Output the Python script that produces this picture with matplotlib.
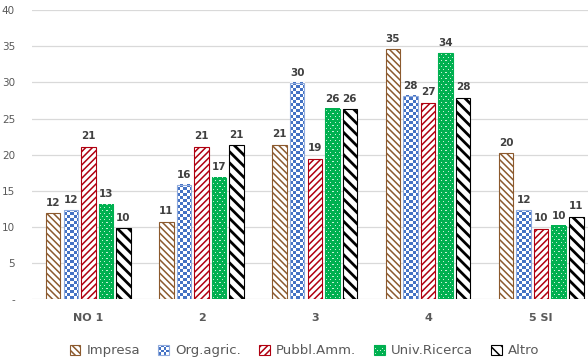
import matplotlib
matplotlib.use("Agg")
import matplotlib.pyplot as plt
from matplotlib.patches import Rectangle
from matplotlib.legend_handler import HandlerBase
from matplotlib.colors import to_rgb
import numpy as np

# ── Data ─────────────────────────────────────────────────────────────────────
categories = ["NO 1", "2", "3", "4", "5 SI"]
series_names = ["Impresa", "Org.agric.", "Pubbl.Amm.", "Univ.Ricerca", "Altro"]
impresa = [11.9, 10.7, 21.4, 34.6, 20.2]
org_agric = [12.3, 15.8, 29.9, 28.1, 12.3]
pubbl_amm = [21.1, 21.1, 19.4, 27.2, 9.75]
univ_ricerca = [13.1, 16.8, 26.3, 34.0, 10.1]
altro = [9.8, 21.3, 26.3, 27.9, 11.4]
yticks = [0, 5, 10, 15, 20, 25, 30, 35, 40]
ytick_labels = ["-", "5", "10", "15", "20", "25", "30", "35", "40"]

# ── Style ────────────────────────────────────────────────────────────────────
BROWN = "#8C5A2E"
BLUE = "#4472C4"
BLUE_EDGE = "#8FAADC"
RED = "#B00010"
GREEN = "#00B050"
BLACK = "#000000"
GRID = "#D9D9D9"
TXT = "#595959"
LBL = "#404040"

W_PX, H_PX, DPI = 588, 364, 100
AX_L, AX_B = 31.7 / W_PX, (H_PX - 299.4) / H_PX
AX_W, AX_H = 566.1 / W_PX, 289.4 / H_PX
XMIN, XMAX, YMAX = -0.5, 4.5, 40
PX_X = AX_W * W_PX / (XMAX - XMIN)
PX_Y = AX_H * H_PX / YMAX

BAR_W = 0.128
STEP = 0.155


def checker(h, w):
    r, c = np.mgrid[0:h, 0:w]
    m = ((r // 3) + (c // 3)) % 2 == 0
    img = np.empty((h, w, 3))
    img[:] = to_rgb("#FFFFFF")
    img[m] = to_rgb(BLUE)
    return img


def dots(h, w):
    r, c = np.mgrid[0:h, 0:w]
    m = (r % 3 == 1) & ((c + 2 * ((r // 3) % 2)) % 4 == 1)
    img = np.empty((h, w, 3))
    img[:] = to_rgb(GREEN)
    img[m] = to_rgb("#C8F0D8")
    return img


# values, edge, hatch, pattern, hatch lw
styles = [
    (impresa, BROWN, "\\\\\\\\\\", None, 1.1),
    (org_agric, BLUE_EDGE, None, checker, None),
    (pubbl_amm, RED, "/////", None, 1.1),
    (univ_ricerca, GREEN, None, dots, None),
    (altro, BLACK, "\\\\\\", None, 2.0),
]

fig = plt.figure(figsize=(W_PX / DPI, H_PX / DPI), dpi=DPI, facecolor="white")
ax = fig.add_axes([AX_L, AX_B, AX_W, AX_H])

x = np.arange(len(categories))
proxies = []
for k, (vals, edge, hatch, pattern, hlw) in enumerate(styles):
    xs = x + (k - 2) * STEP
    if pattern is None:
        with plt.rc_context({"hatch.linewidth": hlw}):
            bars = ax.bar(xs, vals, BAR_W, facecolor="white", edgecolor=edge,
                          hatch=hatch, linewidth=0.8, zorder=3)
            p = Rectangle((0, 0), 1, 1, facecolor="white", edgecolor=edge,
                          hatch=hatch, linewidth=0.8)
        for b in list(bars) + [p]:
            if hasattr(b, "set_hatch_linewidth"):
                b.set_hatch_linewidth(hlw)
    else:
        ax.bar(xs, vals, BAR_W, facecolor="none", edgecolor=edge,
               linewidth=0.8, zorder=3)
        for xi, v in zip(xs, vals):
            h = max(1, int(round(v * PX_Y)))
            w = max(1, int(round(BAR_W * PX_X)))
            ax.imshow(pattern(h, w), extent=(xi - BAR_W / 2, xi + BAR_W / 2, 0, v),
                      origin="lower", interpolation="nearest", aspect="auto", zorder=2)
        p = Rectangle((0, 0), 1, 1, facecolor="none", edgecolor=edge, linewidth=0.8)
        p.pattern = pattern
    proxies.append(p)
    for xi, v in zip(xs, vals):
        ax.annotate(f"{v:.0f}", (xi, v), xytext=(0, 4), textcoords="offset points",
                    ha="center", va="bottom", fontsize=7.5, fontweight="bold",
                    color=LBL)


class PatternHandler(HandlerBase):
    def create_artists(self, legend, orig_handle, xdescent, ydescent,
                       width, height, fontsize, trans):
        n = 12
        img = orig_handle.pattern(n, n)
        arts = []
        cw, ch = width / n, height / n
        for i in range(n):
            for j in range(n):
                arts.append(Rectangle((-xdescent + j * cw, -ydescent + i * ch),
                                      cw, ch, facecolor=img[i, j],
                                      edgecolor="none", transform=trans))
        arts.append(Rectangle((-xdescent, -ydescent), width, height, fill=False,
                              edgecolor=orig_handle.get_edgecolor(), linewidth=0.8,
                              transform=trans))
        return arts


handler_map = {p: PatternHandler() for p in proxies if hasattr(p, "pattern")}

ax.set_xlim(XMIN, XMAX)
ax.set_ylim(0, YMAX)
ax.set_yticks(yticks)
ax.set_yticklabels(ytick_labels)
ax.set_xticks(x)
ax.set_xticklabels(categories, fontweight="bold")
ax.tick_params(axis="y", length=0, pad=12, labelsize=7.5, labelcolor=TXT)
ax.tick_params(axis="x", length=0, pad=10, labelsize=8, labelcolor=TXT)
for lab in ax.get_yticklabels():
    lab.set_horizontalalignment("right")
ax.grid(axis="y", color=GRID, linewidth=0.9, zorder=0)
ax.set_axisbelow(True)
for s in ax.spines.values():
    s.set_visible(False)

with plt.rc_context({"hatch.linewidth": 1.1}):
    fig.legend(proxies, series_names, handler_map=handler_map, loc="center",
               bbox_to_anchor=(304.5 / W_PX, 1 - 350.7 / H_PX), ncol=5,
               frameon=False, fontsize=9.5, handlelength=0.8, handleheight=0.8,
               handletextpad=0.45, columnspacing=1.4, borderpad=0,
               labelcolor=TXT)

fig.savefig("out.png", dpi=DPI, facecolor="white")
